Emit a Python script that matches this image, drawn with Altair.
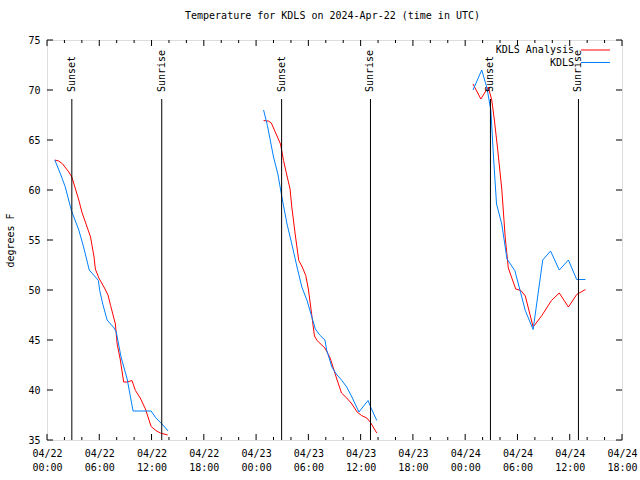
import altair as alt
import pandas as pd

# ---- data (hours after 2024-04-22 00:00 UTC, temperature in F) ----
an1_h = [0.9, 1.35, 1.8, 2.5, 2.85, 3.2, 3.65, 4.0, 4.6, 5.0, 5.4, 5.55, 5.95, 6.6, 7.0, 7.3, 7.85, 8.05, 8.4, 8.8, 9.2, 9.75, 10.15, 10.7, 11.3, 11.95, 12.5, 13.0, 13.85]
an1_t = [63.0, 62.9, 62.6, 61.8, 61.3, 60.3, 59.0, 57.8, 56.3, 55.3, 53.3, 52.1, 51.2, 50.2, 49.5, 48.45, 46.6, 44.6, 43.1, 40.8, 40.8, 40.95, 39.95, 39.2, 38.1, 36.35, 35.95, 35.7, 35.5]
ob1_h = [0.9, 1.55, 2.1, 2.8, 3.65, 4.2, 4.85, 5.55, 5.9, 6.05, 6.4, 6.9, 7.7, 7.95, 8.5, 9.2, 9.88, 11.95, 12.5, 13.2, 13.9]
ob1_t = [63.0, 61.6, 60.3, 57.95, 56.0, 54.3, 52.0, 51.3, 50.95, 49.95, 48.6, 47.0, 46.2, 45.8, 43.3, 41.1, 37.9, 37.9, 37.2, 36.6, 35.9]

an2_h = [24.86, 25.4, 25.75, 26.2, 26.8, 27.15, 27.55, 27.9, 28.1, 28.5, 28.9, 29.3, 29.7, 30.0, 30.3, 30.7, 31.0, 31.9, 32.5, 33.3, 33.8, 34.4, 35.0, 35.6, 36.1, 36.7, 37.1, 37.85]
an2_t = [66.95, 66.9, 66.7, 65.8, 64.6, 62.95, 61.4, 60.1, 58.3, 55.5, 52.95, 52.3, 51.45, 50.1, 48.1, 45.4, 44.95, 44.2, 43.2, 41.0, 39.7, 39.2, 38.6, 37.8, 37.45, 37.2, 36.8, 35.7]
ob2_h = [24.86, 25.3, 26.0, 26.5, 26.96, 27.55, 28.1, 28.7, 29.25, 29.85, 30.3, 30.8, 31.3, 31.9, 32.1, 32.7, 33.2, 33.85, 34.4, 35.0, 35.8, 36.85, 37.15, 37.85]
ob2_t = [68.0, 66.45, 63.3, 61.6, 59.3, 56.6, 54.6, 52.3, 50.3, 48.95, 47.6, 46.1, 45.5, 45.0, 44.0, 42.3, 41.6, 40.95, 40.3, 39.3, 37.8, 38.95, 38.3, 36.95]

an3_h = [48.9, 49.8, 50.65, 51.05, 51.35, 51.7, 52.2, 52.6, 52.95, 53.8, 54.4, 54.9, 55.8, 56.8, 57.9, 58.8, 59.85, 60.8, 61.8]
an3_t = [70.6, 69.1, 70.3, 69.0, 67.0, 64.3, 60.1, 55.2, 52.2, 50.1, 49.95, 49.4, 46.3, 47.45, 48.95, 49.7, 48.3, 49.55, 50.05]
ob3_h = [48.9, 49.9, 50.5, 50.95, 51.25, 51.6, 52.2, 52.8, 53.7, 54.3, 54.9, 55.8, 56.9, 57.8, 58.8, 59.85, 60.8, 61.8]
ob3_t = [70.0, 72.0, 70.2, 67.95, 63.3, 58.6, 56.6, 53.1, 51.95, 49.95, 47.95, 46.05, 53.0, 53.9, 52.0, 53.0, 51.05, 51.05]

series_names = ["KDLS Analysis", "KDLS"]
series_colors = ["#ff0000", "#0080ff"]

sun_hours = [2.85, 13.17, 26.93, 37.13, 50.9, 61.0]
sun_labels = ["Sunset", "Sunrise", "Sunset", "Sunrise", "Sunset", "Sunrise"]

x_major = [0, 6, 12, 18, 24, 30, 36, 42, 48, 54, 60, 66]
x_minor = [2, 4, 8, 10, 14, 16, 20, 22, 26, 28, 32, 34, 38, 40, 44, 46, 50, 52, 56, 58, 62, 64]
y_major = [35, 40, 45, 50, 55, 60, 65, 70, 75]

# ---- build tables ----
parts = []
for seg, (h, t) in enumerate([(an1_h, an1_t), (an2_h, an2_t), (an3_h, an3_t)]):
    parts.append(pd.DataFrame({"series": series_names[0], "seg": f"a{seg}", "hour": h, "temp": t}))
for seg, (h, t) in enumerate([(ob1_h, ob1_t), (ob2_h, ob2_t), (ob3_h, ob3_t)]):
    parts.append(pd.DataFrame({"series": series_names[1], "seg": f"o{seg}", "hour": h, "temp": t}))
df = pd.concat(parts, ignore_index=True)
sun = pd.DataFrame({"hour": sun_hours, "label": sun_labels})

W, H = 575, 400
FONT = "DejaVu Sans Mono"
FS = 10

x_scale = alt.Scale(domain=[0, 66], nice=False, zero=False)
y_scale = alt.Scale(domain=[35, 75], nice=False, zero=False)
color_scale = alt.Scale(domain=series_names, range=series_colors)

label_expr = ("['04/' + (22 + floor(datum.value / 24)), "
              "(datum.value % 24 < 10 ? '0' : '') + (datum.value % 24) + ':00']")

x_axis = alt.Axis(values=x_major, labelExpr=label_expr, title=None, ticks=False,
                  domain=False, grid=False, labelPadding=8, labelBaseline="top",
                  labelLineHeight=14, labelFont=FONT, labelFontSize=FS,
                  labelColor="black", labelFlush=False, labelOverlap=False)
y_axis = alt.Axis(values=y_major, title="degrees F", ticks=False, domain=False,
                  grid=False, labelPadding=7, labelFont=FONT, labelFontSize=FS,
                  labelColor="black", titleFont=FONT, titleFontSize=FS,
                  titleFontWeight="normal", titleColor="black", titleAngle=270,
                  titleX=-37, titleY=200, titleAlign="center",
                  titleBaseline="middle", labelFlush=False, labelOverlap=False)

lines = alt.Chart(df).mark_line(strokeWidth=1, clip=True).encode(
    x=alt.X("hour:Q", scale=x_scale, axis=x_axis),
    y=alt.Y("temp:Q", scale=y_scale, axis=y_axis),
    color=alt.Color("series:N", scale=color_scale, legend=None),
    detail="seg:N",
)

sun_rules = alt.Chart(sun).mark_rule(color="black", strokeWidth=1).encode(
    x=alt.X("hour:Q", scale=x_scale, axis=x_axis),
    y=alt.value(59), y2=alt.value(H),
)
sun_text = alt.Chart(sun).mark_text(angle=270, align="left", baseline="middle",
                                    font=FONT, fontSize=FS, color="black").encode(
    x=alt.X("hour:Q", scale=x_scale, axis=x_axis),
    y=alt.value(52),
    text="label:N",
)

def xticks(vals, y0, y1):
    return alt.Chart(pd.DataFrame({"hour": vals})).mark_rule(color="black", strokeWidth=1).encode(
        x=alt.X("hour:Q", scale=x_scale, axis=x_axis), y=alt.value(y0), y2=alt.value(y1))

def yticks(x0, x1):
    return alt.Chart(pd.DataFrame({"temp": y_major})).mark_rule(color="black", strokeWidth=1).encode(
        y=alt.Y("temp:Q", scale=y_scale, axis=y_axis), x=alt.value(x0), x2=alt.value(x1))

tick_layers = [
    xticks(x_major, H, H - 6), xticks(x_major, 0, 6),
    xticks(x_minor, H, H - 3), xticks(x_minor, 0, 3),
    yticks(0, 6), yticks(W, W - 6),
]

legend_layers = []
for i, (name, col) in enumerate(zip(series_names, series_colors)):
    ld = pd.DataFrame({"name": [name]})
    legend_layers.append(
        alt.Chart(ld).mark_text(align="right", baseline="middle", font=FONT, fontSize=FS,
                                color="black").encode(
            x=alt.value(527), y=alt.value(10 + 12.5 * i), text="name:N"))
    legend_layers.append(
        alt.Chart(ld).mark_rule(color=col, strokeWidth=1).encode(
            x=alt.value(534), x2=alt.value(563), y=alt.value(10 + 12.5 * i)))

chart = alt.layer(lines, sun_rules, *tick_layers, sun_text, *legend_layers).properties(
    width=W, height=H,
    title=alt.TitleParams("Temperature for KDLS on 2024-Apr-22 (time in UTC)",
                          font=FONT, fontSize=FS, fontWeight="normal", color="black",
                          anchor="middle", offset=14, dx=-2),
    padding={"left": 47, "top": 40, "right": 18, "bottom": 40},
    autosize=alt.AutoSizeParams(type="none"),
).configure_view(stroke="black", strokeWidth=1).configure(background="white")

chart.save("out.html", embed_options={"renderer": "svg", "actions": False})
